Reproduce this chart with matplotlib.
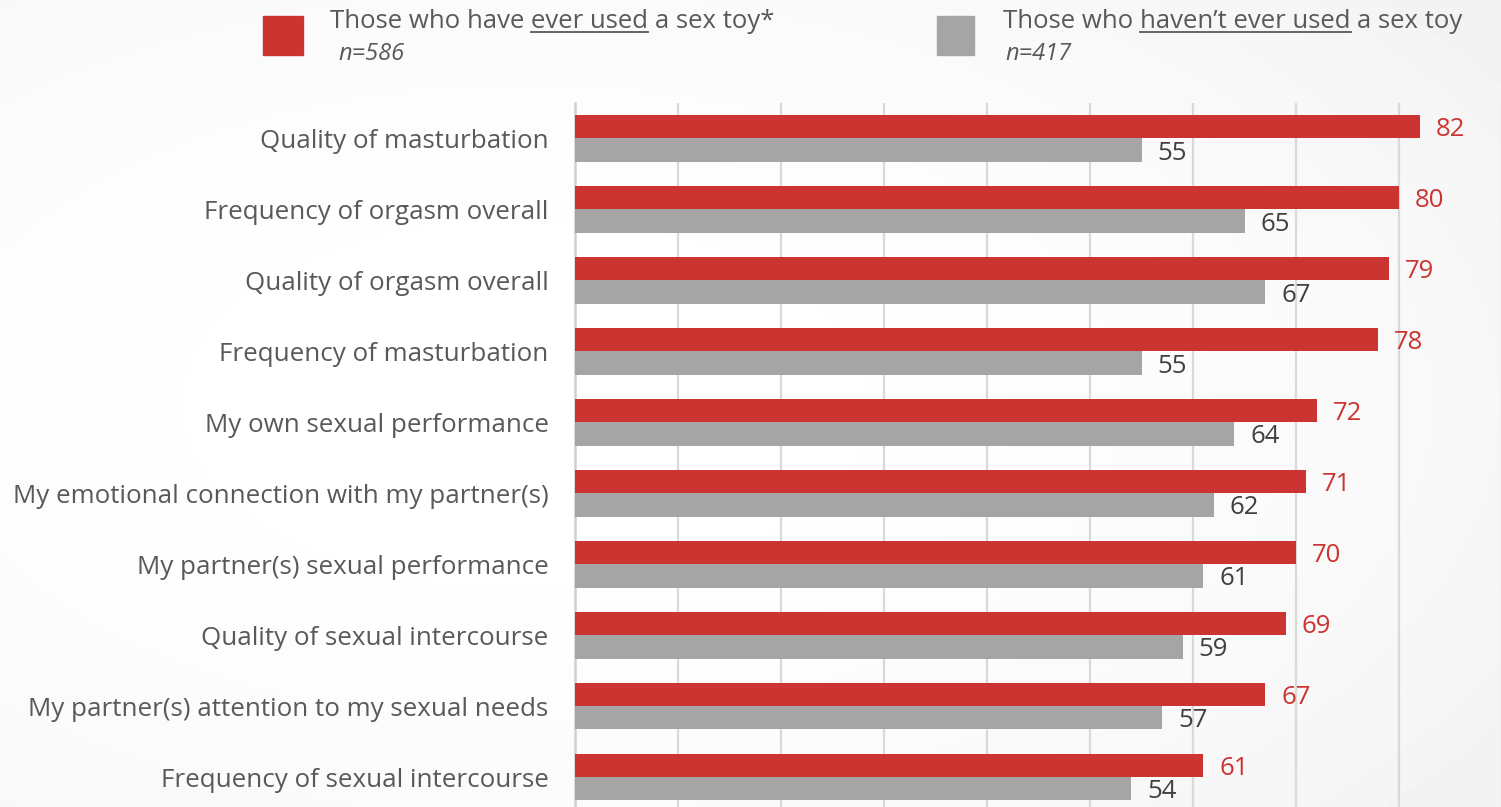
import numpy as np
import matplotlib
matplotlib.use("Agg")
import matplotlib.pyplot as plt
from matplotlib.patches import Rectangle
from matplotlib.lines import Line2D

plt.rcParams['font.family'] = ['Open Sans', 'DejaVu Sans']

categories = [
    "Quality of masturbation",
    "Frequency of orgasm overall",
    "Quality of orgasm overall",
    "Frequency of masturbation",
    "My own sexual performance",
    "My emotional connection with my partner(s)",
    "My partner(s) sexual performance",
    "Quality of sexual intercourse",
    "My partner(s) attention to my sexual needs",
    "Frequency of sexual intercourse",
]
ever_used = [82, 80, 79, 78, 72, 71, 70, 69, 67, 61]
never_used = [55, 65, 67, 55, 64, 62, 61, 59, 57, 54]
x_ticks = [0, 10, 20, 30, 40, 50, 60, 70, 80, 90]

RED = "#cc3431"
GREY = "#a5a5a5"
TEXT = "#595959"
DARK = "#404040"

W, H = 1501, 807
fig = plt.figure(figsize=(W / 100, H / 100), dpi=100)

# faint vignette behind everything
bg = fig.add_axes([0, 0, 1, 1], zorder=-10)
gx, gy = np.meshgrid(np.linspace(0, 1, 300), np.linspace(0, 1, 160))
r = np.sqrt(((gx - 0.35) / 0.9) ** 2 + ((gy - 0.5) / 0.9) ** 2)
shade = 1.0 - 0.06 * np.clip(r, 0, 1) ** 2
bg.imshow(shade, cmap="gray", vmin=0, vmax=1, aspect="auto", extent=[0, 1, 0, 1],
          interpolation="bilinear")
bg.axis("off")

left, right = 575 / W, 1502 / W
top, bottom = 1 - 103 / H, 1 - 812.5 / H
ax = fig.add_axes([left, bottom, right - left, top - bottom])
ax.patch.set_alpha(0)

y = np.arange(len(categories))
h = 0.33
ax.barh(y - h / 2, ever_used, height=h, color=RED, zorder=3)
ax.barh(y + h / 2, never_used, height=h, color=GREY, zorder=3)

for yi, v in zip(y, ever_used):
    ax.annotate(str(v), (v, yi - h / 2), xytext=(11.5, 0), textcoords="offset points",
                va="center_baseline", ha="left", fontsize=18.5, color=RED)
for yi, v in zip(y, never_used):
    ax.annotate(str(v), (v, yi + h / 2), xytext=(11.5, 0), textcoords="offset points",
                va="center_baseline", ha="left", fontsize=18.5, color=DARK)

ax.set_xlim(0, 90)
ax.set_ylim(len(categories) - 0.5, -0.5)
ax.set_xticks(x_ticks)
ax.xaxis.set_visible(False)
ax.set_yticks(y)
ax.set_yticklabels(categories, fontsize=18.7, color=TEXT)
ax.tick_params(axis="y", length=0, pad=19)
for x in x_ticks[1:]:
    ax.axvline(x, color="#d9d9d9", lw=1.6, zorder=1)
for s in ["top", "right", "bottom"]:
    ax.spines[s].set_visible(False)
ax.spines["left"].set_color("#d0d0d0")
ax.spines["left"].set_linewidth(1.8)

# legend with underlined phrases
renderer = fig.canvas.get_renderer()
LEG_FS = 18.5


def px_text(x, y, s, **kw):
    return fig.text(x / W, 1 - y / H, s, va="baseline", ha="left", **kw)


def text_width(s, **kw):
    t = px_text(0, 0, s, **kw)
    w = t.get_window_extent(renderer).width
    t.remove()
    return w


space = text_width("x x", fontsize=LEG_FS) - text_width("xx", fontsize=LEG_FS)


def legend_line(x, y, parts):
    for s, under in parts:
        t = px_text(x, y, s, fontsize=LEG_FS, color=TEXT)
        w = t.get_window_extent(renderer).width
        if under:
            fig.add_artist(Line2D([x / W, (x + w) / W], [1 - (y + 4) / H] * 2,
                                  color=TEXT, lw=1.3, transform=fig.transFigure))
        x += w + space


fig.add_artist(Rectangle((263 / W, 1 - 55 / H), 40 / W, 39 / H, color=RED,
                         transform=fig.transFigure))
legend_line(330, 28, [("Those who have", False), ("ever used", True), ("a sex toy*", False)])
px_text(338, 60, "n=586", fontsize=17, style="italic", color=TEXT)

fig.add_artist(Rectangle((937 / W, 1 - 55 / H), 37 / W, 39 / H, color=GREY,
                         transform=fig.transFigure))
legend_line(1003, 28, [("Those who", False), ("haven\u2019t ever used", True), ("a sex toy", False)])
px_text(1005, 60, "n=417", fontsize=17, style="italic", color=TEXT)

fig.savefig("out.png", dpi=100)
